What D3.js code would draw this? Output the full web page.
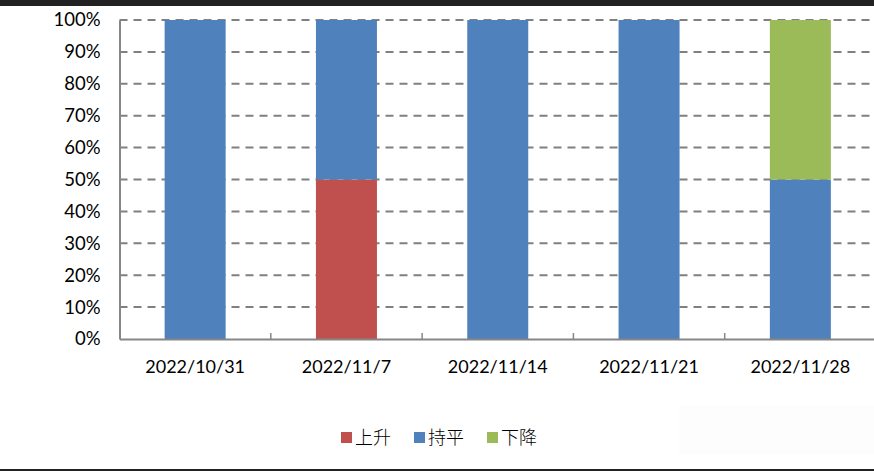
<!DOCTYPE html>
<html><head><meta charset="utf-8">
<script src="https://cdn.jsdelivr.net/npm/d3@7"></script>
<style>html,body{margin:0;padding:0;background:#fff;overflow:hidden}</style>
</head><body>
<svg id="c" width="874" height="471"></svg>
<script>
const categories = ["2022/10/31","2022/11/7","2022/11/14","2022/11/21","2022/11/28"];
const seriesNames = ["上升","持平","下降"];
const rise = [0, 50, 0, 0, 0];
const flat = [100, 50, 100, 100, 50];
const fall = [0, 0, 0, 0, 50];
const yTicks = [0,10,20,30,40,50,60,70,80,90,100];
const colors = ["#C0504D","#4F81BD","#9BBB59"];

(function(){
const svg = d3.select("#c");
svg.append("rect").attr("x",0).attr("y",0).attr("width",874).attr("height",6).attr("fill","#222");
svg.append("rect").attr("x",679).attr("y",405).attr("width",195).attr("height",50).attr("fill","#fdfdfd");
svg.append("rect").attr("x",0).attr("y",469).attr("width",874).attr("height",2).attr("fill","#222");

const pLeft = 119.5, pRight = 876, pTop = 20, pBottom = 339;
const x = d3.scaleBand().domain(categories).range([pLeft, pRight]).paddingInner(0).paddingOuter(0);
const y = d3.scaleLinear().domain([0,100]).range([pBottom, pTop]);

const table = categories.map((c,i)=>({cat:c, "上升":rise[i], "持平":flat[i], "下降":fall[i]}));
const stack = d3.stack().keys(seriesNames)(table);

svg.append("g").selectAll("line").data(yTicks.filter(t=>t>0)).join("line")
  .attr("x1",pLeft).attr("x2",874).attr("y1",d=>y(d)).attr("y2",d=>y(d))
  .attr("stroke","#808080").attr("stroke-width",2).attr("stroke-dasharray","8,6");

const barW = 61;
svg.append("g").selectAll("g").data(stack).join("g").attr("fill",(d,i)=>colors[i])
  .selectAll("rect").data(d=>d).join("rect")
  .attr("x",d=>x(d.data.cat)+x.bandwidth()/2-barW/2)
  .attr("width",barW)
  .attr("y",d=>y(d[1]))
  .attr("height",d=>y(d[0])-y(d[1]));

const gy = svg.append("g").attr("transform",`translate(${pLeft},0)`)
  .call(d3.axisLeft(y).tickValues(yTicks).tickFormat(d=>d+"%").tickSize(0).tickPadding(19));
gy.select(".domain").attr("stroke","#868686").attr("stroke-width",2);
gy.selectAll("text").attr("font-family","Lato, 'Open Sans', sans-serif").attr("font-size","18.5px").attr("fill","#000");

const gx = svg.append("g").attr("transform",`translate(0,${pBottom})`)
  .call(d3.axisBottom(x).tickSize(0).tickPadding(21));
gx.select(".domain").attr("stroke","#868686").attr("stroke-width",2);
gx.selectAll("text").attr("font-family","Lato, 'Open Sans', sans-serif").attr("font-size","18px").attr("fill","#000");
svg.append("g").selectAll("line").data(categories.slice(1)).join("line")
  .attr("x1",d=>x(d)).attr("x2",d=>x(d)).attr("y1",pBottom-6).attr("y2",pBottom)
  .attr("stroke","#868686").attr("stroke-width",1.5);

const legX = [341, 414, 487];
const lg = svg.append("g").selectAll("g").data(seriesNames).join("g")
  .attr("transform",(d,i)=>`translate(${legX[i]},432)`);
lg.append("rect").attr("width",11).attr("height",11).attr("fill",(d,i)=>colors[i]);
lg.append("text").attr("x",14).attr("y",12).text(d=>d)
  .attr("font-family","'Noto Sans CJK SC', sans-serif").attr("font-weight",300).attr("font-size","18px").attr("fill","#000");
})();
</script>
</body></html>
